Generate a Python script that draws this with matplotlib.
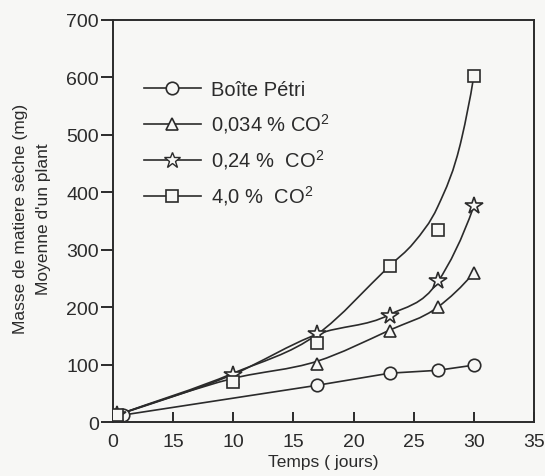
import matplotlib

matplotlib.use("Agg")

import matplotlib.pyplot as plt
import numpy as np
from matplotlib.path import Path
from matplotlib.patches import PathPatch

# measured points (days, mg)
days = [0.3, 10, 17, 23, 27, 30]
petri_days = [0.8, 17, 23, 27, 30]
petri = [12, 64, 85, 90, 99]
co2_0034 = [12, 75, 101, 159, 200, 260]
co2_024 = [12, 82, 153, 185, 246, 376]
co2_40 = [12, 69, 138, 272, 335, 603]

# hand-drawn fitted curves
fit_days_0034 = [0.3, 10, 17, 23, 27, 30]
fit_0034 = [12, 76, 106, 160, 200, 260]
fit_days_024 = [0.3, 10, 17, 23, 27, 30]
fit_024 = [12, 83, 153, 187, 244, 376]
fit_days_40 = [0.3, 10, 17, 23, 25, 27, 29, 30]
fit_40 = [12, 85, 153, 272, 312, 375, 495, 603]

xtick_vals = [0, 5, 10, 15, 20, 25, 30, 35]
xtick_text = ["0", "15", "10", "15", "20", "25", "30", "35"]
ytick_vals = [0, 100, 200, 300, 400, 500, 600, 700]

labels = [
    "Boîte Pétri",
    r"0,034 % CO$^{\mathregular{2}}$",
    r"0,24 %  CO$^{\mathregular{2}}$",
    r"4,0 %  CO$^{\mathregular{2}}$",
]

INK = "#2b2b2b"
BG = "#f7f7f5"

plt.rcParams["font.family"] = ["Liberation Sans", "DejaVu Sans"]
plt.rcParams["mathtext.fontset"] = "custom"
plt.rcParams["mathtext.rm"] = "Liberation Sans"


def smooth_path(xs, ys):
    # cubic hermite (three-point slopes) as bezier segments
    xs = np.asarray(xs, float)
    ys = np.asarray(ys, float)
    h = np.diff(xs)
    d = np.diff(ys) / h
    m = np.empty_like(ys)
    m[0] = d[0]
    m[-1] = d[-1] + (d[-1] - d[-2]) * 0.5
    for i in range(1, len(xs) - 1):
        m[i] = (h[i] * d[i - 1] + h[i - 1] * d[i]) / (h[i - 1] + h[i])
    verts = [(xs[0], ys[0])]
    codes = [Path.MOVETO]
    for i in range(len(xs) - 1):
        verts += [
            (xs[i] + h[i] / 3, ys[i] + m[i] * h[i] / 3),
            (xs[i + 1] - h[i] / 3, ys[i + 1] - m[i + 1] * h[i] / 3),
            (xs[i + 1], ys[i + 1]),
        ]
        codes += [Path.CURVE4] * 3
    return Path(verts, codes)


fig = plt.figure(figsize=(5.45, 4.77), dpi=100, facecolor=BG)
ax = fig.add_axes([0.2073, 0.1132, 0.7725, 0.8428], facecolor=BG)

line_kw = dict(color=INK, lw=1.2)
mk_kw = dict(color=INK, markerfacecolor=BG, markeredgecolor=INK, markeredgewidth=1.2, zorder=4)

# curves
ax.plot(petri_days, petri, **line_kw)
for fx, fy in ((fit_days_0034, fit_0034), (fit_days_024, fit_024), (fit_days_40, fit_40)):
    ax.add_patch(PathPatch(smooth_path(fx, fy), facecolor="none", edgecolor=INK, lw=1.2))

# markers
ax.plot(petri_days, petri, ls="none", marker="o", ms=9, **mk_kw)
ax.plot(days, co2_0034, ls="none", marker="^", ms=9, **mk_kw)
ax.plot(days, co2_024, ls="none", marker="*", ms=13, **mk_kw)
ax.plot(days, co2_40, ls="none", marker="s", ms=8.5, **mk_kw)

# legend handles
handles = [
    plt.Line2D([], [], marker="o", ms=9, **line_kw, markerfacecolor=BG, markeredgewidth=1.2),
    plt.Line2D([], [], marker="^", ms=8, **line_kw, markerfacecolor=BG, markeredgewidth=1.2),
    plt.Line2D([], [], marker="*", ms=12, **line_kw, markerfacecolor=BG, markeredgewidth=1.0),
    plt.Line2D([], [], marker="s", ms=8, **line_kw, markerfacecolor=BG, markeredgewidth=1.2),
]
ax.legend(
    handles, labels, loc="upper left", bbox_to_anchor=(0.055, 0.87), frameon=False,
    fontsize=14.5, handlelength=2.8, handletextpad=0.5, labelspacing=0.6,
    labelcolor=INK, borderaxespad=0,
)

ax.set_xlim(0, 35)
ax.set_ylim(0, 700)
ax.set_xticks(xtick_vals)
ax.set_xticklabels(xtick_text)
ax.set_yticks(ytick_vals)

for sp in ax.spines.values():
    sp.set_color(INK)
    sp.set_linewidth(1.4)

ax.tick_params(axis="x", direction="in", length=7, width=1.4, color=INK, labelsize=14, labelcolor=INK, pad=8)
ax.tick_params(axis="y", direction="out", length=9, width=1.4, color=INK, labelsize=14, labelcolor=INK, pad=1)

ax.set_xlabel("Temps ( jours)", fontsize=12.5, color=INK, labelpad=3)
fig.text(0.038, 0.54, "Masse de matiere sèche (mg)", rotation=90, ha="center", va="center", fontsize=12.5, color=INK)
fig.text(0.079, 0.54, "Moyenne d'un plant", rotation=90, ha="center", va="center", fontsize=12.5, color=INK)

fig.savefig("out.png", dpi=100, facecolor=BG)
